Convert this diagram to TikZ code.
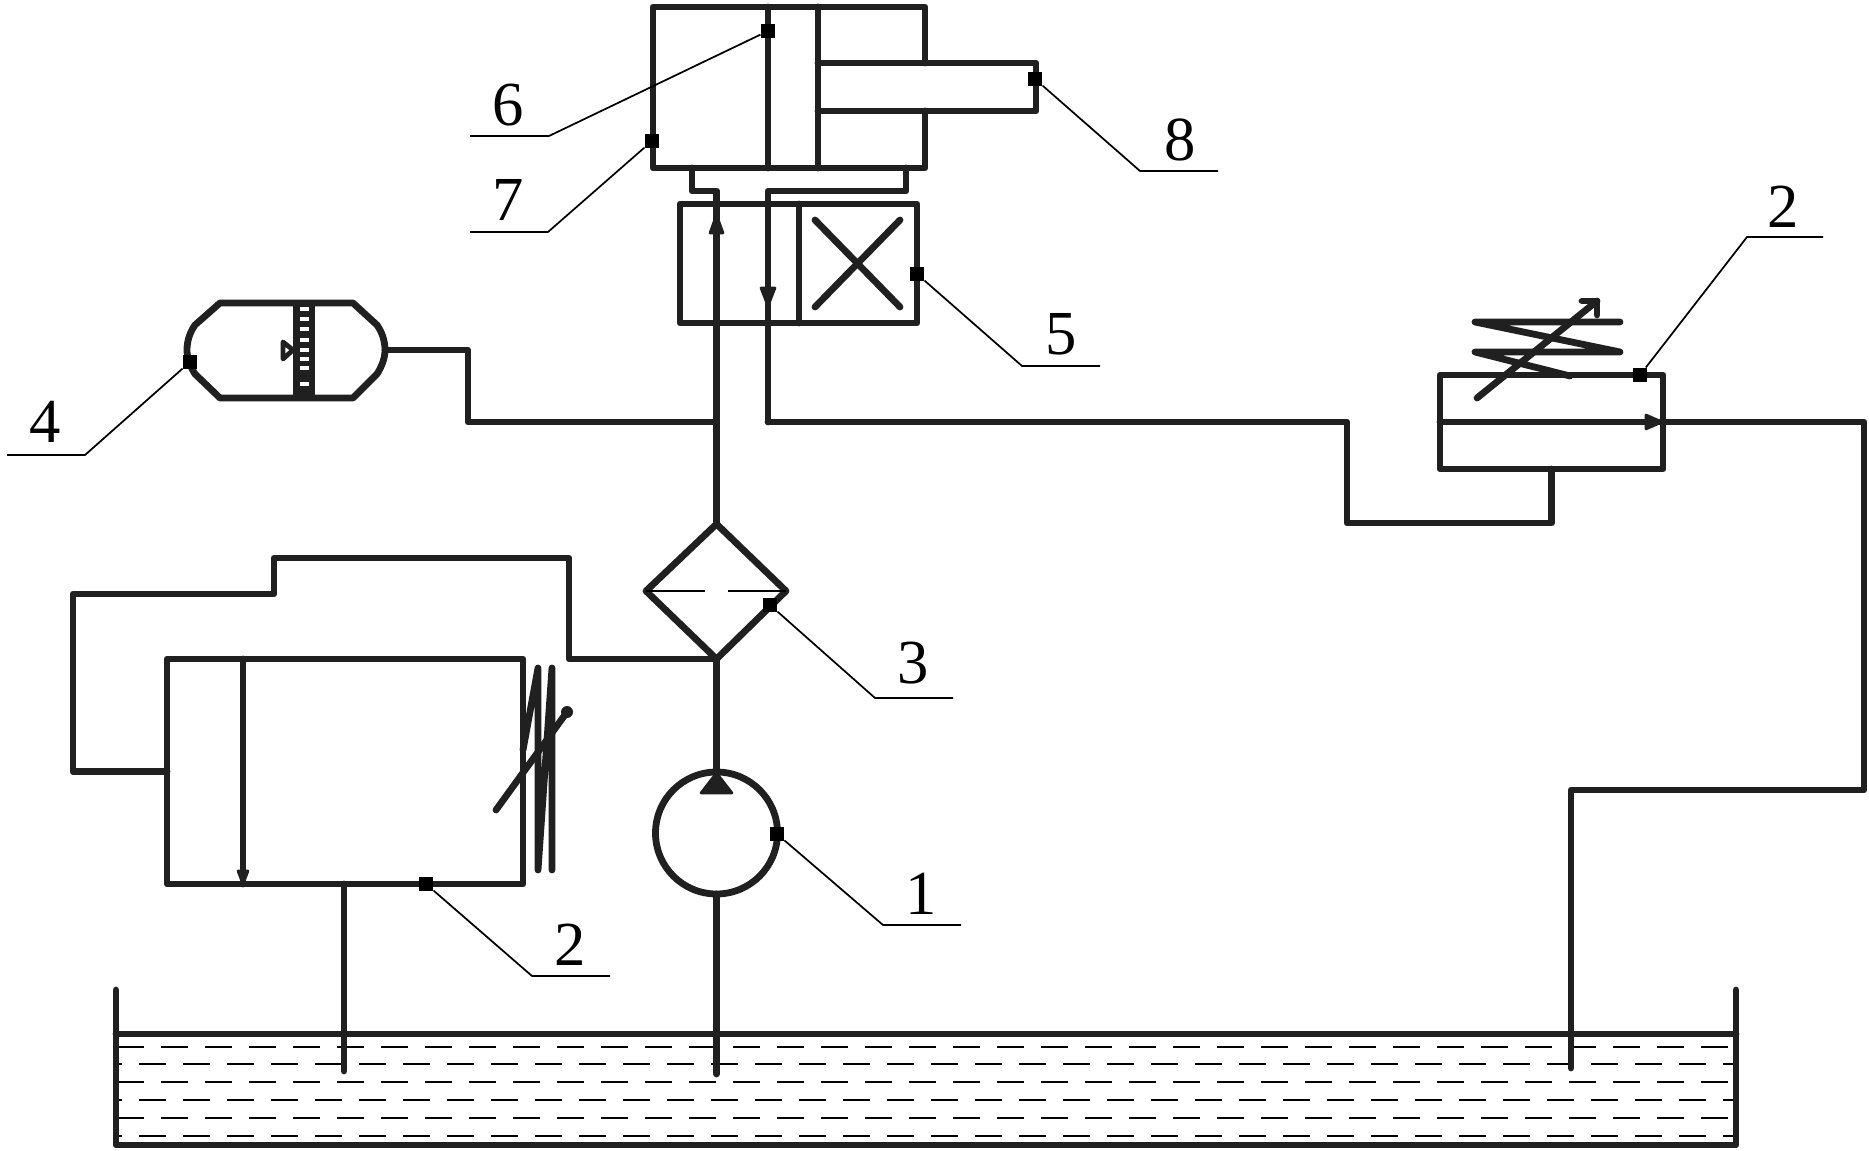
\documentclass[tikz,border=0pt]{standalone}
\usepackage{fontspec}
\setmainfont{Liberation Serif}
\definecolor{pipecol}{RGB}{32,32,32}
\tikzset{every picture/.style={line width=0.75pt}}
\tikzset{
  pipe/.style={line width=5.1pt,line join=round,line cap=round,draw=pipecol},
  thinpipe/.style={line width=1.5pt,draw=black},
  leader/.style={line width=1.3pt,draw=black},
  box/.style={pipe,rectangle,inner sep=0pt,outer sep=0pt},
  mk/.style={rectangle,fill=black,inner sep=0pt,minimum size=10.5pt},
  num/.style={inner sep=0pt,font=\fontsize{47}{47}\selectfont},
  liquid/.style={line width=1.5pt,draw=black},
  head/.style={fill=pipecol,draw=pipecol,line width=2pt,line join=round},
}
\begin{document}
\begin{tikzpicture}[x=0.75pt,y=0.75pt,yscale=-1,xscale=1]
\useasboundingbox (0,0) rectangle (1869,1151);

%Shape: Tank
\coordinate (tankTL) at (116,990);
\coordinate (tankBL) at (116,1145);
\coordinate (tankBR) at (1736,1145);
\coordinate (tankTR) at (1736,990);
\coordinate (surfL) at (116,1034);
\coordinate (surfR) at (1736,1034);
\draw [pipe] (tankTL) -- (tankBL) -- (tankBR) -- (tankTR);
\draw [pipe] (surfL) -- (surfR);
%Liquid dashes
\foreach \ly/\lp in {1047/1.5,1064/18,1082/1.5,1100/18,1118/1.5,1136/18}{
  \draw [liquid,dash pattern=on 20.25pt off 12.75pt,dash phase=\lp pt] (119,\ly) -- (1733,\ly);
}

%Shape: Cylinder
\coordinate (cylTL) at (653,7);
\coordinate (cylBL) at (653,168);
\coordinate (cylBR) at (925,168);
\coordinate (cylTR) at (925,7);
\draw [pipe] (925,63) -- (cylTR) -- (cylTL) -- (cylBL) -- (cylBR) -- (925,111);
\draw [pipe] (768,7) -- (768,168);
\draw [pipe] (818,7) -- (818,168);
\draw [pipe] (818,63) -- (1036,63) -- (1036,111) -- (818,111);

%Flowchart: Process
\node [box,draw,minimum width=177.75pt,minimum height=89.25pt] (valve) at (798.5,263.5) {};
\draw [pipe] (799,204) -- (799,323);
\draw [pipe] (815,220) -- (900,307);
\draw [pipe] (900,220) -- (815,307);

%Flowchart: Process
\node [box,draw,minimum width=167.25pt,minimum height=70.5pt] (relief) at (1551.5,422) {};
%Flowchart: Process
\node [box,draw,minimum width=267pt,minimum height=168.75pt] (reliefL) at (345,771.5) {};
%Flowchart: Connector
\node [box,draw,circle,minimum size=91.5pt] (pump) at (716.5,833) {};

%Flowchart: Decision
\coordinate (ftop) at (716.5,524);
\coordinate (fright) at (786,591);
\coordinate (fbot) at (716.5,659);
\coordinate (fleft) at (646,591);
\draw [pipe] (ftop) -- (fright) -- (fbot) -- (fleft) -- cycle;
\draw [thinpipe] (fleft) -- (705,591);
\draw [thinpipe] (728,591) -- (fright);

%Shape: Accumulator
\coordinate (accR) at (385,350);
\draw [pipe] (220,303) -- (353,303) -- (377,325) .. controls (382,332) and (385,341) .. (accR) .. controls (385,358) and (382,366) .. (377,374) -- (353,398) -- (220,398) -- (195,374) .. controls (190,366) and (187,358) .. (187,350) .. controls (187,341) and (190,332) .. (195,325) -- cycle;
\fill [pipecol] (293,303) rectangle (315,398);
\foreach \ty in {309,319,329,340,350,359,368,384}{
  \fill [white] (300,\ty-1.7) rectangle (309,\ty+1.7);
}
\draw [pipe,line width=3.6pt] (283,342) -- (283,359) -- (293,350) -- cycle;

%Straight Lines
\coordinate (teeP) at (716.5,422);
\coordinate (teeT) at (768,422);
\draw [pipe] (pump.north) -- (fbot);
\draw [pipe] (ftop) -- (teeP) -- (716.5,191) -- (692,191) -- (692,168);
\draw [pipe] (906,168) -- (906,191) -- (768,191) -- (teeT);
\draw [pipe] (accR) -- (468,350) -- (468,422) -- (teeP);
\draw [pipe] (teeT) -- (1347,422) -- (1347,523) -- (1551.5,523) -- (relief.south);
\draw [pipe] (relief.west) -- (1864,422) -- (1864,790) -- (1571,790) -- (1571,1068);
\draw [pipe] (fbot) -- (569,659) -- (569,558) -- (274,558) -- (274,594) -- (73,594) -- (73,771.5) -- (reliefL.west);
\draw [pipe] (pump.south) -- (716.5,1074);
\draw [pipe] (reliefL.south) ++(-1,0) -- (344,1071);
\draw [pipe] (243,659) -- (243,884);

%Arrow heads
\draw [head] (716.5,215) -- (723,233) -- (710,233) -- cycle;
\draw [head] (768,306) -- (775,288) -- (761,288) -- cycle;
\draw [head] (1662,422) -- (1646,415) -- (1646,429) -- cycle;
\draw [head] (243,884) -- (248,871) -- (238,871) -- cycle;
\draw [head] (716.5,773) -- (732,793) -- (701,793) -- cycle;

%Shape: Spring
\draw [pipe] (1620,322) -- (1475,322) -- (1620,352) -- (1475,352) -- (1570,376);
\draw [pipe] (1477,398) -- (1597,301);
\draw [pipe] (1582,301) -- (1597,301) -- (1597,315);
\draw [pipe] (523,750) -- (538,668) -- (538,870) -- (552,668) -- (552,870);
\draw [pipe] (496,810) -- (567,712);
\fill [pipecol] (567,712) circle [radius=6];

%Black marks
\node [mk] (mk6) at (768,31) {};
\node [mk] (mk7) at (652,141) {};
\node [mk] (mk8) at (1035,79) {};
\node [mk] (mk5) at (917,274) {};
\node [mk] (mk4) at (190,362) {};
\node [mk] (mk3) at (770,605) {};
\node [mk] (mk1) at (777,834) {};
\node [mk] (mk2a) at (426,884) {};
\node [mk] (mk2b) at (1640,375) {};

%Leaders
\draw [leader] (mk6) -- (549,136) -- (470,136);
\draw [leader] (mk7) -- (548,232) -- (470,232);
\draw [leader] (mk8) -- (1140,171) -- (1218,171);
\draw [leader] (mk5) -- (1022,366) -- (1100,366);
\draw [leader] (mk4) -- (85,455) -- (7,455);
\draw [leader] (mk3) -- (875,698) -- (953,698);
\draw [leader] (mk1) -- (883,925) -- (961,925);
\draw [leader] (mk2a) -- (532,976) -- (610,976);
\draw [leader] (mk2b) -- (1747,237) -- (1823,237);

% Text Node
\node [num] (lab6) at (508,105) {6};
\node [num] (lab7) at (508,200) {7};
\node [num] (lab8) at (1180,140) {8};
\node [num] (lab5) at (1061,334) {5};
\node [num] (lab4) at (45,422) {4};
\node [num] (lab3) at (913,663) {3};
\node [num] (lab1) at (921,894) {1};
\node [num] (lab2a) at (570,945) {2};
\node [num] (lab2b) at (1783,207) {2};
\end{tikzpicture}
\end{document}
